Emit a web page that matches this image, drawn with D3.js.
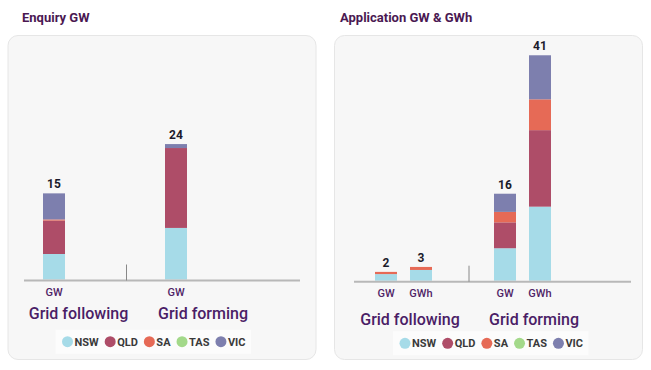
<!DOCTYPE html>
<html>
<head>
<meta charset="utf-8">
<script src="https://cdn.jsdelivr.net/npm/d3@7"></script>
<style>
  body { margin: 0; background: #fff; font-family: Roboto, 'Noto Sans', sans-serif; }
  svg text { font-family: Roboto, 'Noto Sans', sans-serif; }
</style>
</head>
<body>
<div id="root"></div>
<script>
const states = ['NSW', 'QLD', 'SA', 'TAS', 'VIC']
const stateColors = ['#a6dbe8', '#ae4d68', '#e66a56', '#a3d98a', '#7d7fae']
const groups = ['Grid following', 'Grid forming']

// Enquiry GW
const enqGroup = ['Grid following', 'Grid forming']
const enqUnit = ['GW', 'GW']
const enqNSW = [4.5, 9.1]
const enqQLD = [5.9, 14.1]
const enqSA = [0.2, 0]
const enqTAS = [0, 0]
const enqVIC = [4.6, 0.7]
const enqTotal = [15, 24]

// Application GW & GWh
const appGroup = ['Grid following', 'Grid following', 'Grid forming', 'Grid forming']
const appUnit = ['GW', 'GWh', 'GW', 'GWh']
const appNSW = [1.2, 1.95, 5.9, 13.45]
const appQLD = [0, 0, 4.7, 13.9]
const appSA = [0.4, 0.55, 1.9, 5.6]
const appTAS = [0, 0, 0, 0]
const appVIC = [0, 0, 3.3, 8.0]
const appTotal = [2, 3, 16, 41]

const width = 651
const height = 370

const svg = d3.select('#root').append('svg')
  .attr('width', width)
  .attr('height', height)

const color = d3.scaleOrdinal().domain(states).range(stateColors)

function panel(opts) {
  const rows = opts.group.map((g, i) => {
    const r = { group: g, unit: opts.unit[i], total: opts.total[i] }
    states.forEach((s, j) => { r[s] = opts.values[j][i] })
    return r
  })

  svg.append('text')
    .attr('x', opts.titleX)
    .attr('y', 22)
    .attr('fill', '#4a1852')
    .attr('font-size', 13)
    .attr('font-weight', 700)
    .text(opts.title)

  svg.append('rect')
    .attr('x', opts.cardX + 0.5)
    .attr('y', 35.5)
    .attr('width', opts.cardW)
    .attr('height', 324)
    .attr('rx', 10)
    .attr('fill', '#f7f7f7')
    .attr('stroke', '#e6e6e6')

  const x0 = d3.scalePoint().domain(groups).range(opts.groupRange)
  const x1 = d3.scalePoint().domain(d3.union(opts.unit)).range(opts.unitRange)
  const y = d3.scaleLinear()
    .domain([0, d3.max(opts.total)])
    .range([opts.baseline, opts.top])

  const cx = d => x0(d.group) + x1(d.unit)
  const barW = 22

  const stacked = d3.stack().keys(states)(rows)
  const g = svg.append('g')

  g.selectAll('g.layer')
    .data(stacked)
    .enter()
    .append('g')
    .attr('class', 'layer')
    .attr('fill', d => color(d.key))
    .selectAll('rect')
    .data(d => d)
    .enter()
    .append('rect')
    .attr('x', d => cx(d.data) - barW / 2)
    .attr('width', barW)
    .attr('y', d => y(d[1]))
    .attr('height', d => y(d[0]) - y(d[1]))

  // axis line + separator
  g.append('line')
    .attr('x1', opts.axisRange[0]).attr('x2', opts.axisRange[1])
    .attr('y1', opts.baseline + 1).attr('y2', opts.baseline + 1)
    .attr('stroke', '#b8b8b8').attr('stroke-width', 2)
  g.append('line')
    .attr('x1', opts.sepX).attr('x2', opts.sepX)
    .attr('y1', opts.baseline - 15).attr('y2', opts.baseline + 1)
    .attr('stroke', '#888').attr('stroke-width', 1)

  // totals
  g.selectAll('text.total')
    .data(rows)
    .enter()
    .append('text')
    .attr('class', 'total')
    .attr('x', d => cx(d))
    .attr('y', d => y(d3.sum(states, s => d[s])) - 5)
    .attr('text-anchor', 'middle')
    .attr('font-size', 12)
    .attr('font-weight', 700)
    .attr('fill', '#1b1b2b')
    .text(d => d.total)

  // unit labels
  g.selectAll('text.unit')
    .data(rows)
    .enter()
    .append('text')
    .attr('class', 'unit')
    .attr('x', d => cx(d))
    .attr('y', opts.baseline + 16)
    .attr('text-anchor', 'middle')
    .attr('font-size', 11)
    .attr('font-weight', 500)
    .attr('fill', '#4f2466')
    .text(d => d.unit)

  // group labels
  g.selectAll('text.grp')
    .data(groups)
    .enter()
    .append('text')
    .attr('class', 'grp')
    .attr('x', (d, i) => x0(d) + opts.labelOffset[i])
    .attr('y', opts.groupLabelY)
    .attr('text-anchor', 'middle')
    .attr('font-size', 16)
    .attr('font-weight', 500)
    .attr('fill', '#4a1d66')
    .text(d => d)

  // legend
  const lg = svg.append('g')
  const lgBg = lg.append('rect').attr('fill', '#fcfcfc')
  let lx = opts.legendX
  states.forEach(s => {
    lg.append('circle')
      .attr('cx', lx).attr('cy', opts.legendY)
      .attr('r', 5.5)
      .attr('fill', color(s))
    const t = lg.append('text')
      .attr('x', lx + 7)
      .attr('y', opts.legendY + 4)
      .attr('font-size', 11)
      .attr('font-weight', 700)
      .attr('fill', '#3a3a3a')
      .text(s)
    lx += 7 + t.node().getComputedTextLength() + 11.5
  })
  lgBg.attr('x', opts.legendX - 12).attr('y', opts.legendY - 12)
    .attr('width', lx - opts.legendX + 6).attr('height', 24)
}

panel({
  title: 'Enquiry GW', titleX: 22, cardX: 7.5, cardW: 308,
  group: enqGroup, unit: enqUnit, total: enqTotal,
  values: [enqNSW, enqQLD, enqSA, enqTAS, enqVIC],
  groupRange: [54, 176], unitRange: [0, 0],
  baseline: 279.5, top: 143.5,
  axisRange: [24, 300], sepX: 126.5,
  labelOffset: [24.5, 27], groupLabelY: 318.5,
  legendX: 67.5, legendY: 341.7
})

panel({
  title: 'Application GW & GWh', titleX: 340, cardX: 334, cardW: 308,
  group: appGroup, unit: appUnit, total: appTotal,
  values: [appNSW, appQLD, appSA, appTAS, appVIC],
  groupRange: [403.5, 522.5], unitRange: [-17.5, 17.5],
  baseline: 280.7, top: 55,
  axisRange: [354, 631], sepX: 469,
  labelOffset: [6.5, 11.5], groupLabelY: 325,
  legendX: 405, legendY: 343.3
})
</script>
</body>
</html>
